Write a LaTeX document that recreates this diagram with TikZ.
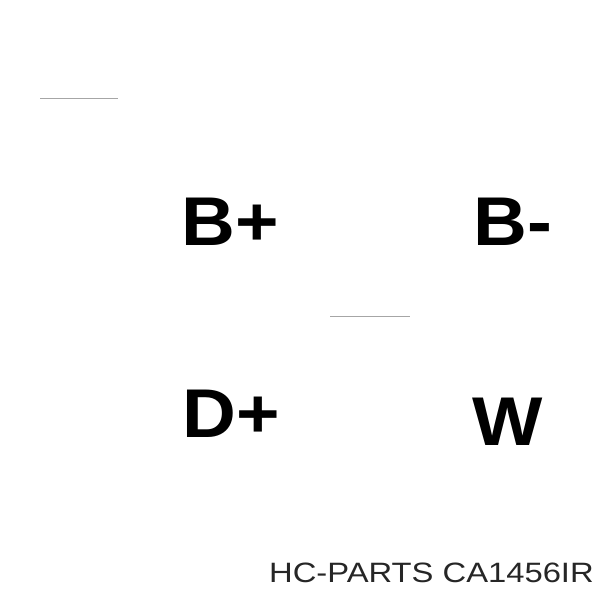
\documentclass[tikz,border=0pt]{standalone}
\usepackage{fontspec}
\setmainfont{Liberation Sans}
\newfontfamily\termfont[FakeStretch=1.08]{Liberation Sans}
\newfontfamily\brandfont[FakeStretch=1.17]{Liberation Sans}
\usepackage{tikz}

\begin{document}
\begin{tikzpicture}[x=1pt,y=-1pt]
        \useasboundingbox (0,0) rectangle (600,600);

        \draw[gray!70, line width=0.6pt] (40,98) -- (118,98);
        \draw[gray!70, line width=0.6pt] (330,316) -- (410,316);

        \node[anchor=base west, inner sep=0pt, font=\termfont\fontsize{69}{69}\bfseries\selectfont] (bplus) at (181,245) {B+};
        \node[anchor=base west, inner sep=0pt, font=\termfont\fontsize{69}{69}\bfseries\selectfont] (bminus) at (473,245) {B-};
        \node[anchor=base west, inner sep=0pt, font=\termfont\fontsize{69}{69}\bfseries\selectfont] (dplus) at (182,437) {D+};
        \node[anchor=base west, inner sep=0pt, font=\termfont\fontsize{69}{69}\bfseries\selectfont] (wterm) at (472,445) {W};

        \node[anchor=base east, inner sep=0pt, font=\brandfont\fontsize{28}{28}\selectfont, text=black!85] (brand) at (594,582) {HC-PARTS CA1456IR};
      \end{tikzpicture}
\end{document}
